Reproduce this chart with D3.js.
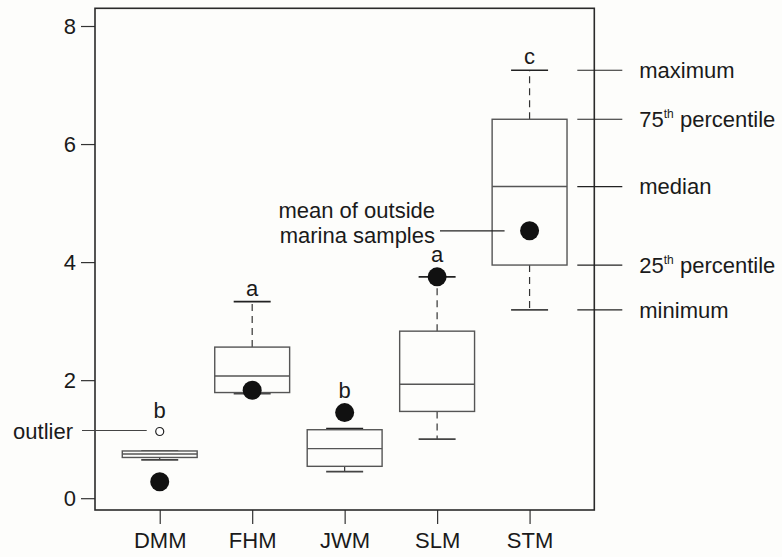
<!DOCTYPE html>
<html>
<head>
<meta charset="utf-8">
<script src="https://cdn.jsdelivr.net/npm/d3@7"></script>
<style>
  body { margin: 0; background: #fdfdfb; }
  svg { display: block; font-family: "Liberation Sans", Arial, sans-serif; }
  .lbl { font-size: 22px; fill: #1a1a1a; }
</style>
</head>
<body>
<svg id="chart" width="782" height="557"></svg>
<script>
// box statistics
var sites   = ['DMM', 'FHM', 'JWM', 'SLM', 'STM'];
var mins    = [0.65, 1.77, 0.45, 1.00, 3.19];
var q1s     = [0.69, 1.79, 0.54, 1.47, 3.95];
var medians = [0.75, 2.07, 0.84, 1.93, 5.28];
var q3s     = [0.80, 2.56, 1.16, 2.83, 6.42];
var maxs    = [0.80, 3.33, 1.18, 3.75, 7.25];
var means   = [0.28, 1.83, 1.45, 3.75, 4.53];
var outliers = [[1.13], [], [], [], []];
var letters = ['b', 'a', 'b', 'a', 'c'];
var yTicks  = [0, 2, 4, 6, 8];

// key on the right, tied to the STM box
var keySite = 'STM';
var keyNames = [['maximum', ''], ['75', 'th', ' percentile'], ['median', ''], ['25', 'th', ' percentile'], ['minimum', '']];

var svg = d3.select('#chart');
var pl = 95, pr = 594.3, pt = 8.3, pb = 510;

var x = d3.scalePoint()
  .domain(sites)
  .range([pl, pr])
  .padding(0.7);

var y = d3.scaleLinear()
  .domain([-0.2, 8.3])
  .range([pb, pt]);

var step = x.step(),
  boxW = step * 0.81,
  capW = step * 0.4;

var boxes = sites.map(function(s, i) {
  return {site: s, min: mins[i], q1: q1s[i], med: medians[i], q3: q3s[i],
    max: maxs[i], mean: means[i], out: outliers[i], letter: letters[i]};
});

// axes
svg.append('g')
  .attr('transform', 'translate(' + pl + ',0)')
  .call(d3.axisLeft(y).tickValues(yTicks).tickSize(14).tickPadding(5).tickSizeOuter(0))
  .call(function(g) {
    g.select('.domain').remove();
    g.selectAll('line').attr('stroke', '#333').attr('stroke-width', 1.2);
    g.selectAll('text').attr('class', 'lbl').attr('font-size', null).attr('font-family', null);
  });

svg.append('g')
  .attr('transform', 'translate(0,' + pb + ')')
  .call(d3.axisBottom(x).tickSize(14).tickPadding(8).tickSizeOuter(0))
  .call(function(g) {
    g.select('.domain').remove();
    g.selectAll('line').attr('stroke', '#333').attr('stroke-width', 1.2);
    g.selectAll('text').attr('class', 'lbl').attr('font-size', null).attr('font-family', null);
  });

// frame
svg.append('rect')
  .attr('x', pl).attr('y', pt)
  .attr('width', pr - pl).attr('height', pb - pt)
  .attr('fill', 'none')
  .attr('stroke', '#2a2a2a')
  .attr('stroke-width', 1.6);

var g = svg.selectAll('g.box')
  .data(boxes)
  .enter()
  .append('g')
  .attr('class', 'box')
  .attr('transform', function(d) { return 'translate(' + x(d.site) + ',0)'; });

// dashed whiskers
g.append('line')
  .attr('y1', function(d) { return y(d.q3); })
  .attr('y2', function(d) { return y(d.max); })
  .attr('stroke', '#333').attr('stroke-width', 1.2).attr('stroke-dasharray', '7,5');
g.append('line')
  .attr('y1', function(d) { return y(d.q1); })
  .attr('y2', function(d) { return y(d.min); })
  .attr('stroke', '#333').attr('stroke-width', 1.2).attr('stroke-dasharray', '7,5');

// caps
['min', 'max'].forEach(function(k) {
  g.append('line')
    .attr('x1', -capW / 2).attr('x2', capW / 2)
    .attr('y1', function(d) { return y(d[k]); })
    .attr('y2', function(d) { return y(d[k]); })
    .attr('stroke', k === 'min' ? '#444' : '#222')
    .attr('stroke-width', 1.6);
});

g.append('rect')
  .attr('x', -boxW / 2)
  .attr('width', boxW)
  .attr('y', function(d) { return y(d.q3); })
  .attr('height', function(d) { return y(d.q1) - y(d.q3); })
  .attr('fill', '#fdfdfb')
  .attr('stroke', '#555')
  .attr('stroke-width', 1.4);

g.append('line')
  .attr('x1', -boxW / 2).attr('x2', boxW / 2)
  .attr('y1', function(d) { return y(d.med); })
  .attr('y2', function(d) { return y(d.med); })
  .attr('stroke', '#555')
  .attr('stroke-width', 1.4);

// outliers
g.selectAll('circle.out')
  .data(function(d) { return d.out; })
  .enter()
  .append('circle')
  .attr('class', 'out')
  .attr('cy', function(v) { return y(v); })
  .attr('r', 4)
  .attr('fill', '#fff')
  .attr('stroke', '#222')
  .attr('stroke-width', 1.2);

// mean of outside marina samples
g.append('circle')
  .attr('cy', function(d) { return y(d.mean); })
  .attr('r', 9.5)
  .attr('fill', '#111');

// significance letters above the highest mark
g.append('text')
  .attr('class', 'lbl')
  .attr('text-anchor', 'middle')
  .attr('y', function(d) {
    var hi = y(d.max) - 6;
    d.out.forEach(function(v) { hi = Math.min(hi, y(v) - 13); });
    hi = Math.min(hi, y(d.mean) - 15);
    return hi;
  })
  .text(function(d) { return d.letter; });

// key lines on the right
var kb = boxes[sites.indexOf(keySite)];
var keyVals = [kb.max, kb.q3, kb.med, kb.q1, kb.min];

var key = svg.selectAll('g.key')
  .data(keyVals)
  .enter()
  .append('g')
  .attr('class', 'key')
  .attr('transform', function(v) { return 'translate(0,' + y(v) + ')'; });

key.append('line')
  .attr('x1', pr - 17).attr('x2', pr + 28)
  .attr('stroke', '#222').attr('stroke-width', 1.2);

var kt = key.append('text')
  .attr('class', 'lbl')
  .attr('x', pr + 45)
  .attr('dy', '0.35em');
kt.append('tspan').text(function(v, i) { return keyNames[i][0]; });
kt.append('tspan')
  .attr('font-size', 12)
  .attr('dy', -9)
  .text(function(v, i) { return keyNames[i][1]; });
kt.append('tspan')
  .attr('dy', 9)
  .text(function(v, i) { return keyNames[i][2] || ''; });

// mean note
var meanY = y(kb.mean);
svg.append('line')
  .attr('x1', 440).attr('x2', x(keySite) - 25)
  .attr('y1', meanY).attr('y2', meanY)
  .attr('stroke', '#222').attr('stroke-width', 1.2);
svg.append('text')
  .attr('class', 'lbl')
  .attr('text-anchor', 'end')
  .attr('x', 435)
  .attr('y', meanY - 13)
  .text('mean of outside');
svg.append('text')
  .attr('class', 'lbl')
  .attr('text-anchor', 'end')
  .attr('x', 435)
  .attr('y', meanY + 12)
  .text('marina samples');

// outlier note
var ob = boxes[0];
svg.append('line')
  .attr('x1', 82).attr('x2', x(ob.site) - 13)
  .attr('y1', y(ob.out[0]) - 1).attr('y2', y(ob.out[0]) - 1)
  .attr('stroke', '#444').attr('stroke-width', 1.2);
svg.append('text')
  .attr('class', 'lbl')
  .attr('text-anchor', 'end')
  .attr('x', 73)
  .attr('y', y(ob.out[0]) + 8)
  .text('outlier');
</script>
</body>
</html>
